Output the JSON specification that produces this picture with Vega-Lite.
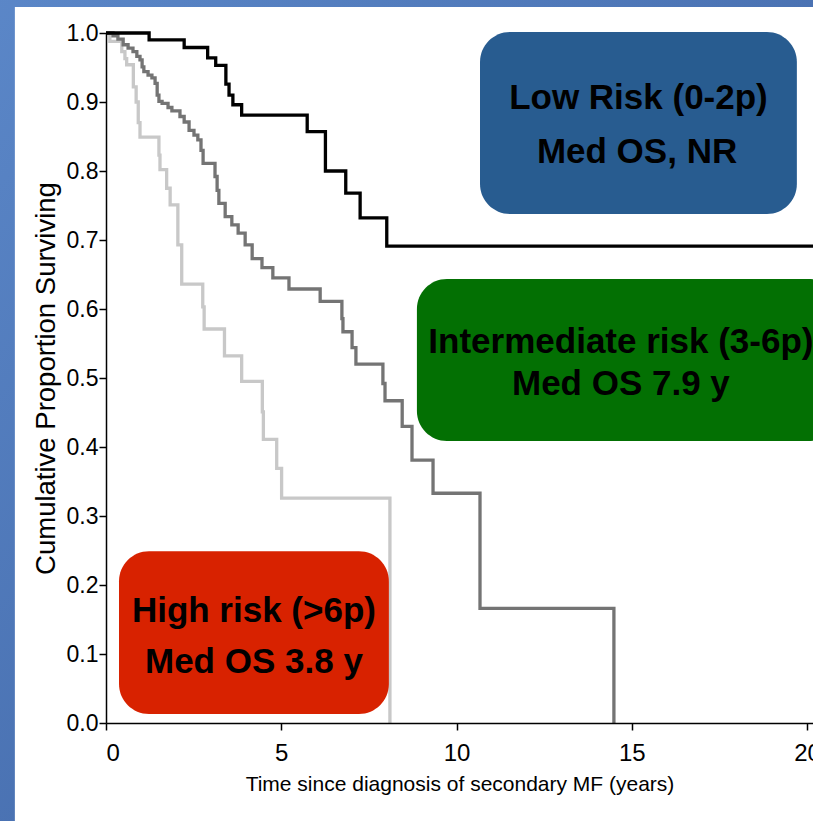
{
  "$schema": "https://vega.github.io/schema/vega-lite/v6.json",
  "width": 707,
  "height": 690,
  "autosize": {"type": "none"},
  "padding": {"left": 106, "top": 33, "right": 0, "bottom": 98},
  "background": "#4a74b6",
  "config": {
    "view": {"stroke": null},
    "axis": {"zindex": 1, "grid": false, "domainColor": "#000000", "tickColor": "#000000", "labelColor": "#000000", "titleColor": "#000000", "domainWidth": 1.5, "tickWidth": 1.5, "tickSize": 7, "titleFontWeight": "normal"},
    "axisX": {"labelFont": "Liberation Sans, sans-serif", "labelFontSize": 24, "labelPadding": 11, "titleFont": "Liberation Sans, sans-serif", "titleFontSize": 21, "titlePadding": 8},
    "axisY": {"labelFont": "Liberation Sans, sans-serif", "labelFontSize": 23, "labelPadding": 1, "titleFont": "Liberation Sans, sans-serif", "titleFontSize": 27.5, "titlePadding": 6}
  },
  "datasets": {
    "slide": [{"x1": -3.3, "x2": 20.6, "y1": 1.07, "y2": -0.17}],
    "page": [{"x1": -2.6, "x2": 20.6, "y1": 1.0377, "y2": -0.17}],
    "curves": [
      {"g": "high", "t": 0, "s": 1.0},
      {"g": "high", "t": 0.11, "s": 0.988},
      {"g": "high", "t": 0.45, "s": 0.973},
      {"g": "high", "t": 0.54, "s": 0.963},
      {"g": "high", "t": 0.59, "s": 0.954},
      {"g": "high", "t": 0.78, "s": 0.922},
      {"g": "high", "t": 0.86, "s": 0.900},
      {"g": "high", "t": 0.92, "s": 0.870},
      {"g": "high", "t": 0.97, "s": 0.849},
      {"g": "high", "t": 1.51, "s": 0.823},
      {"g": "high", "t": 1.54, "s": 0.802},
      {"g": "high", "t": 1.73, "s": 0.775},
      {"g": "high", "t": 1.83, "s": 0.751},
      {"g": "high", "t": 2.05, "s": 0.693},
      {"g": "high", "t": 2.16, "s": 0.636},
      {"g": "high", "t": 2.76, "s": 0.603},
      {"g": "high", "t": 2.80, "s": 0.571},
      {"g": "high", "t": 3.38, "s": 0.532},
      {"g": "high", "t": 3.87, "s": 0.495},
      {"g": "high", "t": 4.46, "s": 0.451},
      {"g": "high", "t": 4.49, "s": 0.411},
      {"g": "high", "t": 4.87, "s": 0.369},
      {"g": "high", "t": 5.01, "s": 0.326},
      {"g": "high", "t": 8.10, "s": 0.0},
      {"g": "int", "t": 0, "s": 1.0},
      {"g": "int", "t": 0.20, "s": 0.996},
      {"g": "int", "t": 0.34, "s": 0.991},
      {"g": "int", "t": 0.49, "s": 0.983},
      {"g": "int", "t": 0.63, "s": 0.978},
      {"g": "int", "t": 0.77, "s": 0.973},
      {"g": "int", "t": 0.88, "s": 0.966},
      {"g": "int", "t": 0.97, "s": 0.961},
      {"g": "int", "t": 1.03, "s": 0.951},
      {"g": "int", "t": 1.08, "s": 0.944},
      {"g": "int", "t": 1.20, "s": 0.939},
      {"g": "int", "t": 1.31, "s": 0.935},
      {"g": "int", "t": 1.40, "s": 0.927},
      {"g": "int", "t": 1.46, "s": 0.910},
      {"g": "int", "t": 1.51, "s": 0.901},
      {"g": "int", "t": 1.60, "s": 0.898},
      {"g": "int", "t": 1.77, "s": 0.892},
      {"g": "int", "t": 1.88, "s": 0.887},
      {"g": "int", "t": 2.11, "s": 0.879},
      {"g": "int", "t": 2.23, "s": 0.871},
      {"g": "int", "t": 2.37, "s": 0.859},
      {"g": "int", "t": 2.51, "s": 0.852},
      {"g": "int", "t": 2.62, "s": 0.845},
      {"g": "int", "t": 2.71, "s": 0.830},
      {"g": "int", "t": 2.77, "s": 0.811},
      {"g": "int", "t": 3.11, "s": 0.792},
      {"g": "int", "t": 3.17, "s": 0.772},
      {"g": "int", "t": 3.22, "s": 0.753},
      {"g": "int", "t": 3.40, "s": 0.734},
      {"g": "int", "t": 3.59, "s": 0.722},
      {"g": "int", "t": 3.77, "s": 0.710},
      {"g": "int", "t": 3.97, "s": 0.693},
      {"g": "int", "t": 4.17, "s": 0.673},
      {"g": "int", "t": 4.45, "s": 0.660},
      {"g": "int", "t": 4.76, "s": 0.645},
      {"g": "int", "t": 5.22, "s": 0.629},
      {"g": "int", "t": 6.11, "s": 0.611},
      {"g": "int", "t": 6.73, "s": 0.586},
      {"g": "int", "t": 6.76, "s": 0.567},
      {"g": "int", "t": 7.02, "s": 0.544},
      {"g": "int", "t": 7.13, "s": 0.520},
      {"g": "int", "t": 7.90, "s": 0.492},
      {"g": "int", "t": 7.96, "s": 0.467},
      {"g": "int", "t": 8.45, "s": 0.430},
      {"g": "int", "t": 8.73, "s": 0.381},
      {"g": "int", "t": 9.33, "s": 0.333},
      {"g": "int", "t": 10.67, "s": 0.166},
      {"g": "int", "t": 14.49, "s": 0.0},
      {"g": "low", "t": 0, "s": 1.0},
      {"g": "low", "t": 1.23, "s": 0.990},
      {"g": "low", "t": 2.23, "s": 0.979},
      {"g": "low", "t": 2.90, "s": 0.964},
      {"g": "low", "t": 3.13, "s": 0.953},
      {"g": "low", "t": 3.42, "s": 0.926},
      {"g": "low", "t": 3.51, "s": 0.910},
      {"g": "low", "t": 3.62, "s": 0.896},
      {"g": "low", "t": 3.87, "s": 0.881},
      {"g": "low", "t": 5.74, "s": 0.857},
      {"g": "low", "t": 6.26, "s": 0.800},
      {"g": "low", "t": 6.84, "s": 0.768},
      {"g": "low", "t": 7.25, "s": 0.732},
      {"g": "low", "t": 8.01, "s": 0.691},
      {"g": "low", "t": 20.17, "s": 0.691}
    ],
    "boxes": [
      {"box": "low", "x1": 10.67, "x2": 19.71, "y1": 1.0014, "y2": 0.7377},
      {"box": "int", "x1": 8.87, "x2": 20.9, "y1": 0.6435, "y2": 0.4087},
      {"box": "high", "x1": 0.371, "x2": 8.07, "y1": 0.249, "y2": 0.013}
    ],
    "labels": [
      {"label": "Low Risk (0-2p)", "t": 15.19, "s": 0.8899},
      {"label": "Med OS, NR", "t": 15.15, "s": 0.8116},
      {"label": "Intermediate risk (3-6p)", "t": 14.69, "s": 0.5362},
      {"label": "Med OS 7.9 y", "t": 14.69, "s": 0.4754},
      {"label": "High risk (>6p)", "t": 4.22, "s": 0.1464},
      {"label": "Med OS 3.8 y", "t": 4.22, "s": 0.0725}
    ]
  },
  "layer": [
    {
      "data": {"name": "slide"},
      "mark": {"type": "rect", "fill": {"gradient": "linear", "x1": 0, "y1": 0, "x2": 1, "y2": 1, "stops": [{"offset": 0, "color": "#5b87c8"}, {"offset": 1, "color": "#3a5e9e"}]}},
      "encoding": {
        "x": {"field": "x1", "type": "quantitative", "scale": {"domain": [0, 20.17], "nice": false, "zero": false}, "title": "Time since diagnosis of secondary MF (years)", "axis": {"values": [0, 5, 10, 15, 20], "format": "d", "zindex": 2}},
        "x2": {"field": "x2"},
        "y": {"field": "y1", "type": "quantitative", "scale": {"domain": [0, 1], "nice": false}, "title": "Cumulative Proportion Surviving", "axis": {"values": [0, 0.1, 0.2, 0.3, 0.4, 0.5, 0.6, 0.7, 0.8, 0.9, 1.0], "format": ".1f", "zindex": 2}},
        "y2": {"field": "y2"}
      }
    },
    {
      "data": {"name": "page"},
      "mark": {"type": "rect", "fill": "#ffffff"},
      "encoding": {
        "x": {"field": "x1", "type": "quantitative", "title": "Time since diagnosis of secondary MF (years)", "axis": {"values": [0, 5, 10, 15, 20], "format": "d", "zindex": 2}},
        "x2": {"field": "x2"},
        "y": {"field": "y1", "type": "quantitative", "title": "Cumulative Proportion Surviving", "axis": {"values": [0, 0.1, 0.2, 0.3, 0.4, 0.5, 0.6, 0.7, 0.8, 0.9, 1.0], "format": ".1f", "zindex": 2}},
        "y2": {"field": "y2"}
      }
    },
    {
      "data": {"name": "curves"},
      "mark": {"type": "line", "interpolate": "step-after", "strokeWidth": 3.3},
      "encoding": {
        "x": {"field": "t", "type": "quantitative", "title": "Time since diagnosis of secondary MF (years)", "axis": {"values": [0, 5, 10, 15, 20], "format": "d", "zindex": 2}},
        "y": {"field": "s", "type": "quantitative", "title": "Cumulative Proportion Surviving", "axis": {"values": [0, 0.1, 0.2, 0.3, 0.4, 0.5, 0.6, 0.7, 0.8, 0.9, 1.0], "format": ".1f", "zindex": 2}},
        "stroke": {"field": "g", "type": "nominal", "scale": {"domain": ["high", "int", "low"], "range": ["#c8c8c8", "#747474", "#000000"]}, "legend": null},
        "order": {"field": "t", "type": "quantitative"}
      }
    },
    {
      "data": {"name": "boxes"},
      "mark": {"type": "rect", "cornerRadius": 30},
      "encoding": {
        "x": {"field": "x1", "type": "quantitative", "title": "Time since diagnosis of secondary MF (years)", "axis": {"values": [0, 5, 10, 15, 20], "format": "d", "zindex": 2}},
        "x2": {"field": "x2"},
        "y": {"field": "y1", "type": "quantitative", "title": "Cumulative Proportion Surviving", "axis": {"values": [0, 0.1, 0.2, 0.3, 0.4, 0.5, 0.6, 0.7, 0.8, 0.9, 1.0], "format": ".1f", "zindex": 2}},
        "y2": {"field": "y2"},
        "fill": {"field": "box", "type": "nominal", "scale": {"domain": ["low", "int", "high"], "range": ["#285c90", "#037003", "#d82200"]}, "legend": null}
      }
    },
    {
      "data": {"name": "labels"},
      "mark": {"type": "text", "font": "Liberation Sans, Arial, sans-serif", "fontWeight": "bold", "fontSize": 35, "color": "#000000", "align": "center", "baseline": "alphabetic"},
      "encoding": {
        "x": {"field": "t", "type": "quantitative", "title": "Time since diagnosis of secondary MF (years)", "axis": {"values": [0, 5, 10, 15, 20], "format": "d", "zindex": 2}},
        "y": {"field": "s", "type": "quantitative", "title": "Cumulative Proportion Surviving", "axis": {"values": [0, 0.1, 0.2, 0.3, 0.4, 0.5, 0.6, 0.7, 0.8, 0.9, 1.0], "format": ".1f", "zindex": 2}},
        "text": {"field": "label", "type": "nominal"}
      }
    }
  ]
}
